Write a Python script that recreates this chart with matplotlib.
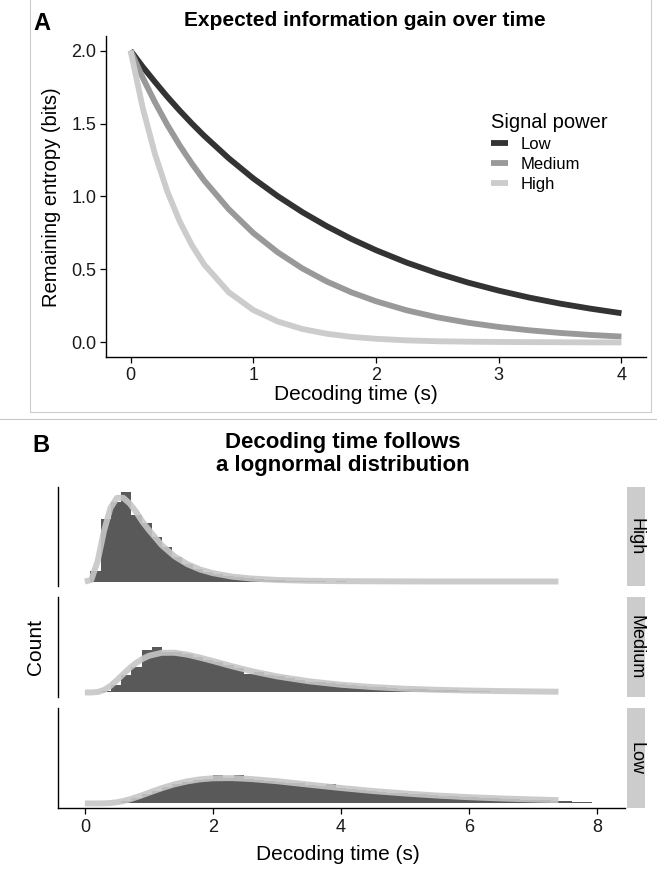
import numpy as np
import matplotlib
matplotlib.use('Agg')
import matplotlib.pyplot as plt
from matplotlib.lines import Line2D
from matplotlib.patches import Rectangle

plt.rcParams['font.family'] = ['Liberation Sans', 'DejaVu Sans']

# ---- panel A: remaining entropy over decoding time ----
levels = ['Low', 'Medium', 'High']
level_colors = ['#333333', '#999999', '#cccccc']

t_info = [0, 0.1, 0.2, 0.3, 0.4, 0.5, 0.6, 0.8, 1.0, 1.2, 1.4, 1.6, 1.8, 2.0,
          2.25, 2.5, 2.75, 3.0, 3.25, 3.5, 3.75, 4.0]
entropy_low = [2.000, 1.888, 1.784, 1.683, 1.589, 1.500, 1.416, 1.262, 1.124, 1.002,
               0.893, 0.796, 0.709, 0.632, 0.547, 0.474, 0.410, 0.355, 0.307, 0.266,
               0.231, 0.200]
entropy_medium = [2.000, 1.813, 1.644, 1.490, 1.351, 1.225, 1.110, 0.913, 0.750, 0.617,
                  0.507, 0.417, 0.343, 0.282, 0.220, 0.172, 0.135, 0.106, 0.083, 0.065,
                  0.051, 0.040]
entropy_high = [2.000, 1.605, 1.288, 1.034, 0.830, 0.666, 0.534, 0.344, 0.222, 0.143,
                0.092, 0.059, 0.038, 0.025, 0.014, 0.008, 0.005, 0.003, 0.002, 0.001,
                0.000, 0.000]

# ---- panel B: decoding time histograms + lognormal fits ----
bin_start, bin_width = 0.085, 0.16
counts_high = [12, 70, 88, 100, 74, 65, 50, 38, 27, 20, 14, 11, 8, 6, 5, 4, 3, 2, 2, 1,
               1, 1, 1, 0, 1, 0, 0, 0, 0, 0, 0, 0, 0, 0, 0, 0, 0, 0, 0, 0,
               0, 0, 0, 0, 0, 0, 0, 0, 0]
counts_medium = [0, 2, 8, 19, 28, 47, 50, 45, 44, 42, 39, 36, 33, 30, 27, 20, 23, 19, 18, 16,
                 14, 12, 11, 10, 9, 8, 7, 6, 6, 5, 4, 4, 4, 3, 3, 3, 2, 2, 2, 1,
                 1, 1, 1, 1, 1, 0, 1, 0, 0]
counts_low = [0, 0, 1, 3, 6, 10, 14, 18, 21, 24, 26, 27, 31, 28, 31, 27, 26, 25, 24, 23,
              22, 20, 19, 21, 17, 16, 15, 14, 13, 12, 11, 10, 10, 9, 8, 8, 7, 7, 6, 6,
              5, 5, 4, 4, 4, 3, 3, 2, 2]

t_fit = [0, 0.1, 0.2, 0.3, 0.4, 0.5, 0.6, 0.7, 0.8, 0.9, 1.0, 1.2, 1.4, 1.6, 1.8, 2.0,
         2.3, 2.6, 3.0, 3.5, 4.0, 4.5, 5.0, 5.5, 6.0, 6.5, 7.0, 7.4]
fit_high = [0, 1.7, 22.7, 56.5, 81.7, 92.9, 93.0, 86.7, 77.4, 66.4, 57.2, 40.4, 28.0, 19.3,
            13.3, 9.3, 5.4, 3.3, 1.7, 0.8, 0.4, 0.2, 0.1, 0, 0, 0, 0, 0]
fit_medium = [0, 0, 0.5, 2.7, 7.2, 13.4, 20.2, 26.8, 32.4, 36.9, 40.3, 43.6, 43.7, 41.6,
              38.3, 34.6, 28.8, 23.5, 17.7, 12.3, 8.5, 5.9, 4.1, 2.9, 2.1, 1.5, 1.1, 0.8]
fit_low = [0, 0, 0, 0.1, 0.5, 1.3, 2.7, 4.5, 6.8, 9.2, 11.8, 16.8, 21.1, 24.3, 26.5, 27.7,
           27.9, 26.9, 24.5, 20.7, 17.0, 13.7, 11.0, 8.7, 6.9, 5.5, 4.4, 3.6]

W, H = 657, 873


def rect(x0, y0, x1, y1):
    # pixel box measured from the top-left -> figure fraction
    return [x0 / W, 1 - y1 / H, (x1 - x0) / W, (y1 - y0) / H]


def pt(x, y):
    return x / W, 1 - y / H


fig = plt.figure(figsize=(W / 100, H / 100), dpi=100)

# frame around panel A and separator line
fig.add_artist(Rectangle(pt(30, 412), (651 - 30) / W, 420 / H, transform=fig.transFigure,
                         fill=False, edgecolor='#cccccc', lw=0.8))
fig.add_artist(Line2D([0, 1], [pt(0, 419)[1]] * 2, transform=fig.transFigure,
                      color='#c8c8c8', lw=0.8))

axA = fig.add_axes(rect(106, 36, 646, 357))
for name, vals, col in zip(levels, [entropy_low, entropy_medium, entropy_high], level_colors):
    axA.plot(t_info, vals, color=col, lw=4.2, solid_capstyle='butt', label=name)
axA.set_xlim(-0.2, 4.2)
axA.set_ylim(-0.1, 2.1)
axA.set_xticks([0, 1, 2, 3, 4])
axA.set_yticks([0, 0.5, 1.0, 1.5, 2.0])
axA.set_yticklabels(['0.0', '0.5', '1.0', '1.5', '2.0'])
for s in ['top', 'right']:
    axA.spines[s].set_visible(False)
for s in ['left', 'bottom']:
    axA.spines[s].set_linewidth(1.0)
axA.tick_params(length=4, width=0.9, labelsize=13, pad=3, labelcolor='#1a1a1a')
axA.legend(title='Signal power', loc='upper left', bbox_to_anchor=pt(491, 113),
           bbox_transform=fig.transFigure, frameon=False, fontsize=12, title_fontsize=14.5,
           handlelength=1.0, handletextpad=0.8, labelspacing=0.3, borderpad=0,
           borderaxespad=0, alignment='left')

fig.text(*pt(42, 24), 'A', fontsize=17, fontweight='bold', ha='center', va='center')
fig.text(*pt(365, 20), 'Expected information gain over time', fontsize=15,
         fontweight='bold', ha='center', va='center')
fig.text(*pt(356, 395), 'Decoding time (s)', fontsize=15, ha='center', va='center')
fig.text(*pt(52, 197), 'Remaining entropy (bits)', fontsize=14.5, ha='center', va='center',
         rotation=90)

# ---- panel B facets ----
fig.text(*pt(41, 446), 'B', fontsize=17, fontweight='bold', ha='center', va='center')
fig.text(*pt(343, 454), 'Decoding time follows\na lognormal distribution', fontsize=16,
         fontweight='bold', ha='center', va='center', linespacing=1.1)

facets = [('High', counts_high, fit_high, 487, 586),
          ('Medium', counts_medium, fit_medium, 597, 697),
          ('Low', counts_low, fit_low, 708, 808)]
for name, counts, fit, y0, y1 in facets:
    ax = fig.add_axes(rect(58, y0, 625, y1))
    edges = bin_start + bin_width * np.arange(len(counts) + 1)
    ax.stairs(counts, edges, fill=True, color='#595959', lw=0)
    ax.plot(t_fit, fit, color='#c6c6c6', alpha=0.9, lw=4.3, solid_capstyle='butt')
    ax.set_xlim(-0.42, 8.44)
    ax.set_ylim(-5, 105)
    ax.set_yticks([])
    for s in ['top', 'right']:
        ax.spines[s].set_visible(False)
    ax.spines['left'].set_linewidth(1.0)
    if name == 'Low':
        ax.spines['bottom'].set_linewidth(1.0)
        ax.set_xticks([0, 2, 4, 6, 8])
        ax.tick_params(axis='x', length=4, width=0.9, labelsize=13, pad=4,
                       labelcolor='#1a1a1a')
    else:
        ax.spines['bottom'].set_visible(False)
        ax.set_xticks([])
    strip = fig.add_axes(rect(627, y0, 645, y1))
    strip.set_facecolor('#cccccc')
    strip.set_xticks([])
    strip.set_yticks([])
    for s in strip.spines.values():
        s.set_visible(False)
    strip.text(0.5, 0.5, name, rotation=-90, ha='center', va='center', fontsize=13,
               transform=strip.transAxes)

fig.text(*pt(338, 855), 'Decoding time (s)', fontsize=15, ha='center', va='center')
fig.text(*pt(35, 647), 'Count', fontsize=15, ha='center', va='center', rotation=90)

fig.savefig('out.png', dpi=100)
